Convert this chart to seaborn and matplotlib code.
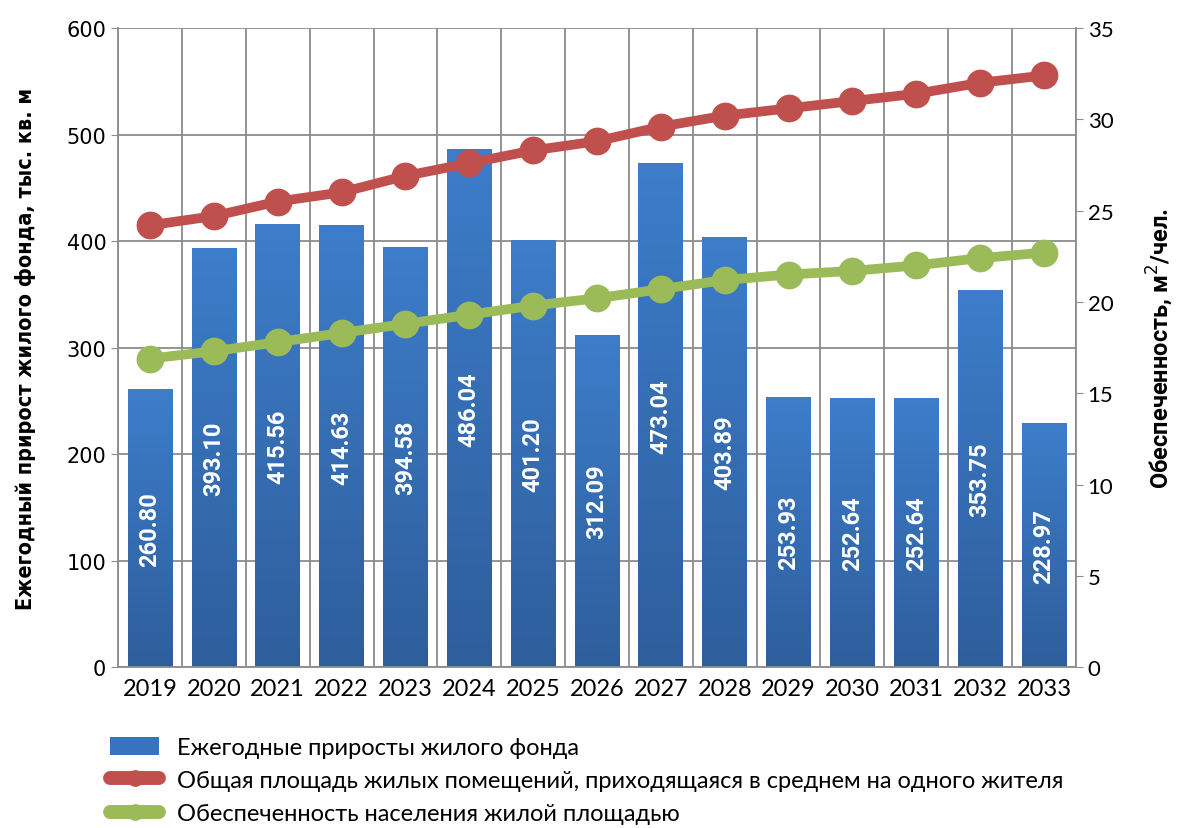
import numpy as np
import pandas as pd
import matplotlib
matplotlib.use("Agg")
import matplotlib.pyplot as plt
from matplotlib.lines import Line2D
from matplotlib.patches import Patch
import seaborn as sns

# данные
years = ['2019', '2020', '2021', '2022', '2023', '2024', '2025', '2026',
         '2027', '2028', '2029', '2030', '2031', '2032', '2033']
growth = [260.80, 393.10, 415.56, 414.63, 394.58, 486.04, 401.20, 312.09,
          473.04, 403.89, 253.93, 252.64, 252.64, 353.75, 228.97]
area_per_resident = [24.2, 24.7, 25.5, 26.0, 26.9, 27.6, 28.3, 28.8,
                     29.6, 30.2, 30.6, 31.0, 31.4, 32.0, 32.4]
provision = [16.9, 17.3, 17.8, 18.3, 18.8, 19.3, 19.8, 20.2,
             20.7, 21.2, 21.5, 21.7, 22.0, 22.4, 22.7]

bar_label = 'Ежегодные приросты жилого фонда'
red_label = 'Общая площадь жилых помещений, приходящаяся в среднем на одного жителя'
green_label = 'Обеспеченность населения жилой площадью'

df = pd.DataFrame({'year': years, 'growth': growth,
                   'area': area_per_resident, 'prov': provision})
df['pos'] = np.arange(len(years))

sns.set_style('white')
plt.rcParams['font.family'] = ['Lato', 'DejaVu Sans']
plt.rcParams['text.color'] = 'black'
plt.rcParams['axes.labelcolor'] = 'black'

BLUE = '#3873bd'
RED = '#c0504d'
GREEN = '#9bbb59'
GRID = '#8c8c8c'

fig = plt.figure(figsize=(11.81, 8.29), dpi=100)
ax = fig.add_axes([0.1, 0.194, 0.811, 0.771])

sns.barplot(data=df, x='year', y='growth', color=BLUE, width=0.7,
            saturation=1, ax=ax, zorder=2)

# градиент на столбцах
grad = np.linspace(0, 1, 256).reshape(-1, 1)
cmap = matplotlib.colors.LinearSegmentedColormap.from_list('g', ['#2e5e9c', '#3d7dca'])
for p in ax.patches:
    x0, y0 = p.get_x(), p.get_y()
    w, h = p.get_width(), p.get_height()
    im = ax.imshow(grad, cmap=cmap, aspect='auto', origin='lower',
                   extent=(x0, x0 + w, y0, y0 + h), zorder=2.5)
    im.set_clip_path(p)
    p.set_edgecolor('none')

for i, v in enumerate(growth):
    ax.text(i, v / 2, f'{v:.2f}', rotation=90, ha='center', va='center',
            color='white', fontsize=17, fontweight='bold',
            family=['Roboto', 'DejaVu Sans'], zorder=4)

ax.set_xlim(-0.5, len(years) - 0.5)
ax.set_ylim(0, 600)
ax.set_yticks(range(0, 601, 100))
ax.set_yticklabels([str(t) for t in range(0, 601, 100)],
                   fontsize=15, family='DejaVu Sans')
ax.set_xticks(np.arange(len(years)))
ax.set_xticklabels(years, fontsize=17)
ax.set_xticks(np.arange(len(years) + 1) - 0.5, minor=True)
ax.tick_params(axis='x', which='major', length=0, pad=8, labelcolor='black')
ax.tick_params(axis='x', which='minor', length=5, color=GRID)
ax.tick_params(axis='y', length=5, color=GRID, left=True, labelcolor='black')
ax.grid(axis='y', which='major', color=GRID, lw=1.3, zorder=0)
ax.grid(axis='x', which='minor', color=GRID, lw=1.3, zorder=0)
ax.set_axisbelow(True)
ax.set_xlabel('')
ax.set_ylabel('Ежегодный прирост жилого фонда, тыс. кв. м', fontsize=15.5,
              fontweight='bold', family=['Liberation Sans Narrow', 'DejaVu Sans'],
              fontstretch='condensed', labelpad=22)
for s in ['left', 'bottom']:
    ax.spines[s].set_color(GRID)
    ax.spines[s].set_linewidth(1.3)
ax.spines['top'].set_visible(False)
ax.spines['right'].set_visible(False)

ax2 = ax.twinx()
sns.lineplot(data=df, x='pos', y='area', color=RED, lw=7, marker='o',
             markersize=20, markeredgewidth=0, ax=ax2, zorder=5)
sns.lineplot(data=df, x='pos', y='prov', color=GREEN, lw=7, marker='o',
             markersize=20, markeredgewidth=0, ax=ax2, zorder=5)
ax2.set_xlim(-0.5, len(years) - 0.5)
ax2.set_ylim(0, 35)
ax2.set_yticks(range(0, 36, 5))
ax2.set_yticklabels([str(t) for t in range(0, 36, 5)], fontsize=16)
ax2.tick_params(axis='y', length=5, color=GRID, right=True, labelcolor='black')
ax2.set_ylabel('Обеспеченность, м$^2$/чел.', fontsize=17, fontweight='bold',
               family=['Roboto', 'DejaVu Sans'], labelpad=22)
ax2.set_xlabel('')
ax2.spines['right'].set_color(GRID)
ax2.spines['right'].set_linewidth(1.3)
ax2.spines['top'].set_visible(False)
ax2.spines['left'].set_visible(False)
ax2.spines['bottom'].set_visible(False)
ax2.grid(False)

handles = [Patch(facecolor=BLUE, edgecolor='none'),
           Line2D([], [], color=RED, lw=10, marker='o', markersize=11),
           Line2D([], [], color=GREEN, lw=10, marker='o', markersize=11)]
fig.legend(handles, [bar_label, red_label, green_label],
           loc='upper left', bbox_to_anchor=(0.093, 0.11), frameon=False,
           fontsize=17, handlelength=2.1, handleheight=0.8,
           labelspacing=0.5, handletextpad=0.75, borderaxespad=0,
           borderpad=0)

fig.savefig('out.png', dpi=100)
